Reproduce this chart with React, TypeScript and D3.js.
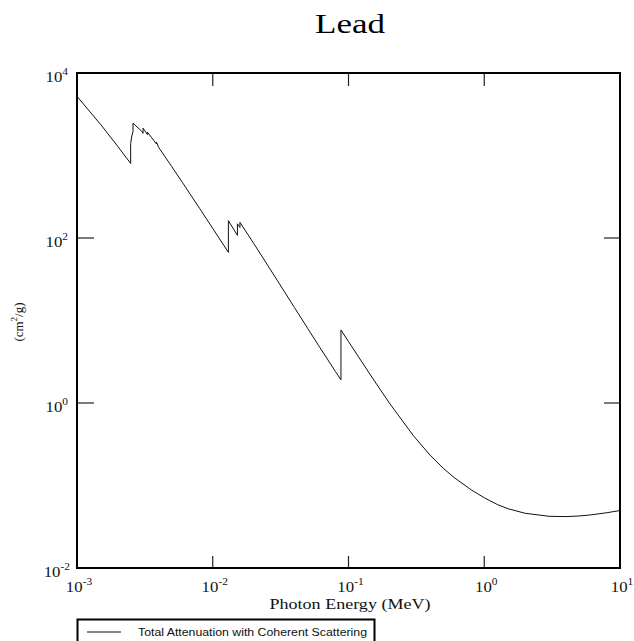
import * as d3 from "d3";

// photon energy (MeV) and total attenuation with coherent scattering (cm2/g), lead
const energy = [
  1.0e-3, 1.5e-3, 2.0e-3, 2.484e-3, 2.484e-3, 2.534e-3, 2.586e-3, 2.586e-3,
  3.0e-3, 3.066e-3, 3.066e-3, 3.301e-3, 3.301e-3, 3.554e-3, 3.851e-3, 3.851e-3,
  4.0e-3, 5.0e-3, 6.0e-3, 8.0e-3, 1.0e-2, 1.3035e-2, 1.3035e-2, 1.5e-2,
  1.52e-2, 1.52e-2, 1.5527e-2, 1.5861e-2, 1.5861e-2, 2.0e-2, 3.0e-2, 4.0e-2,
  5.0e-2, 6.0e-2, 8.0e-2, 8.8005e-2, 8.8005e-2, 1.0e-1, 1.5e-1, 2.0e-1,
  3.0e-1, 4.0e-1, 5.0e-1, 6.0e-1, 8.0e-1, 1.0, 1.25, 1.5, 2.0, 3.0, 4.0,
  5.0, 6.0, 8.0, 10.0,
];
const attenuation = [
  5210, 2356, 1285, 800.6, 1397, 1726, 1944, 2458,
  1965, 1857, 2146, 1796, 1920, 1640, 1379, 1447,
  1251, 730.3, 467.2, 228.7, 130.6, 67.01, 162.1, 111.6,
  107.8, 148.5, 141.6, 134.4, 154.8, 86.36, 30.32, 14.36,
  8.041, 5.021, 2.419, 1.91, 7.683, 5.549, 2.014, 0.9985,
  0.4031, 0.2323, 0.1614, 0.1248, 0.0887, 0.07102, 0.05876, 0.05222, 0.04606, 0.04234, 0.04197,
  0.04272, 0.04391, 0.04675, 0.04972,
];

const xTickExp = [-3, -2, -1, 0, 1];
const yTickExp = [-2, 0, 2, 4];

const title = "Lead";
const xTitle = "Photon Energy (MeV)";
const legendLabel = "Total Attenuation with Coherent Scattering";

const W = 634;
const H = 641;
const left = 77;
const right = 620;
const top = 73;
const bottom = 568;

export default function App() {
  const x = d3.scaleLog().domain([1e-3, 10]).range([left, right]);
  const y = d3.scaleLog().domain([1e-2, 1e4]).range([bottom, top]);

  const pts: [number, number][] = energy.map((e, i) => [e, attenuation[i]]);
  const line = d3
    .line<[number, number]>()
    .x((d) => x(d[0]))
    .y((d) => y(d[1]));

  const serif = "'Liberation Serif', 'Times New Roman', serif";

  return (
    <svg
      width={W}
      height={H}
      style={{ position: "absolute", left: 0, top: 0, background: "#fff" }}
    >
      <rect x={0} y={0} width={W} height={H} fill="#fff" />

      <text
        x={350}
        y={33}
        fontFamily={serif}
        fontSize={27}
        textAnchor="middle"
        textLength={70}
        lengthAdjust="spacingAndGlyphs"
      >
        {title}
      </text>

      {/* ticks */}
      {xTickExp.slice(1, -1).map((p) => (
        <g key={"xt" + p} stroke="#222" strokeWidth={1.2}>
          <line x1={x(10 ** p)} x2={x(10 ** p)} y1={bottom} y2={bottom - 12} />
          <line x1={x(10 ** p)} x2={x(10 ** p)} y1={top} y2={top + 13} />
        </g>
      ))}
      {yTickExp.slice(1, -1).map((p) => (
        <g key={"yt" + p} stroke="#222" strokeWidth={1.2}>
          <line x1={left} x2={left + 17} y1={y(10 ** p)} y2={y(10 ** p)} />
          <line x1={right} x2={right - 16} y1={y(10 ** p)} y2={y(10 ** p)} />
        </g>
      ))}

      {/* curve */}
      <path d={line(pts) ?? ""} fill="none" stroke="#111" strokeWidth={1} />

      {/* frame */}
      <rect
        x={left}
        y={top}
        width={right - left}
        height={bottom - top}
        fill="none"
        stroke="#000"
        strokeWidth={2}
      />

      {/* x tick labels */}
      {xTickExp.map((p) => (
        <text
          key={"xl" + p}
          transform={`translate(${x(10 ** p) + 2},592) scale(1.2,1)`}
          fontFamily={serif}
          fontSize={14}
          textAnchor="middle"
          fill="#111"
        >
          10
          <tspan fontSize={9.5} dy={-7}>
            {p < 0 ? "-" + Math.abs(p) : String(p)}
          </tspan>
        </text>
      ))}

      {/* y tick labels */}
      {yTickExp.map((p) => (
        <text
          key={"yl" + p}
          transform={`translate(${p < 0 ? 70 : 68},${y(10 ** p) + 9}) scale(1.2,1)`}
          fontFamily={serif}
          fontSize={14}
          textAnchor="end"
          fill="#111"
        >
          10
          <tspan fontSize={9.5} dy={-7}>
            {p < 0 ? "-" + Math.abs(p) : String(p)}
          </tspan>
        </text>
      ))}

      <text
        x={350}
        y={609}
        fontFamily={serif}
        fontSize={14}
        textAnchor="middle"
        textLength={161}
        lengthAdjust="spacingAndGlyphs"
        fill="#111"
      >
        {xTitle}
      </text>

      <text
        transform="translate(23,322) rotate(-90)"
        fontFamily={serif}
        fontSize={13}
        textAnchor="middle"
        fill="#111"
      >
        (cm
        <tspan fontSize={9} dy={-6}>
          2
        </tspan>
        <tspan dy={6}>/g)</tspan>
      </text>

      {/* legend */}
      <rect
        x={77.5}
        y={619.5}
        width={297}
        height={40}
        fill="#fff"
        stroke="#000"
        strokeWidth={2}
      />
      <line x1={87} x2={121} y1={632} y2={632} stroke="#111" strokeWidth={1} />
      <text
        x={138}
        y={636}
        fontFamily="'Liberation Sans', Arial, sans-serif"
        fontSize={11}
        textLength={229}
        lengthAdjust="spacingAndGlyphs"
        fill="#111"
      >
        {legendLabel}
      </text>
    </svg>
  );
}
